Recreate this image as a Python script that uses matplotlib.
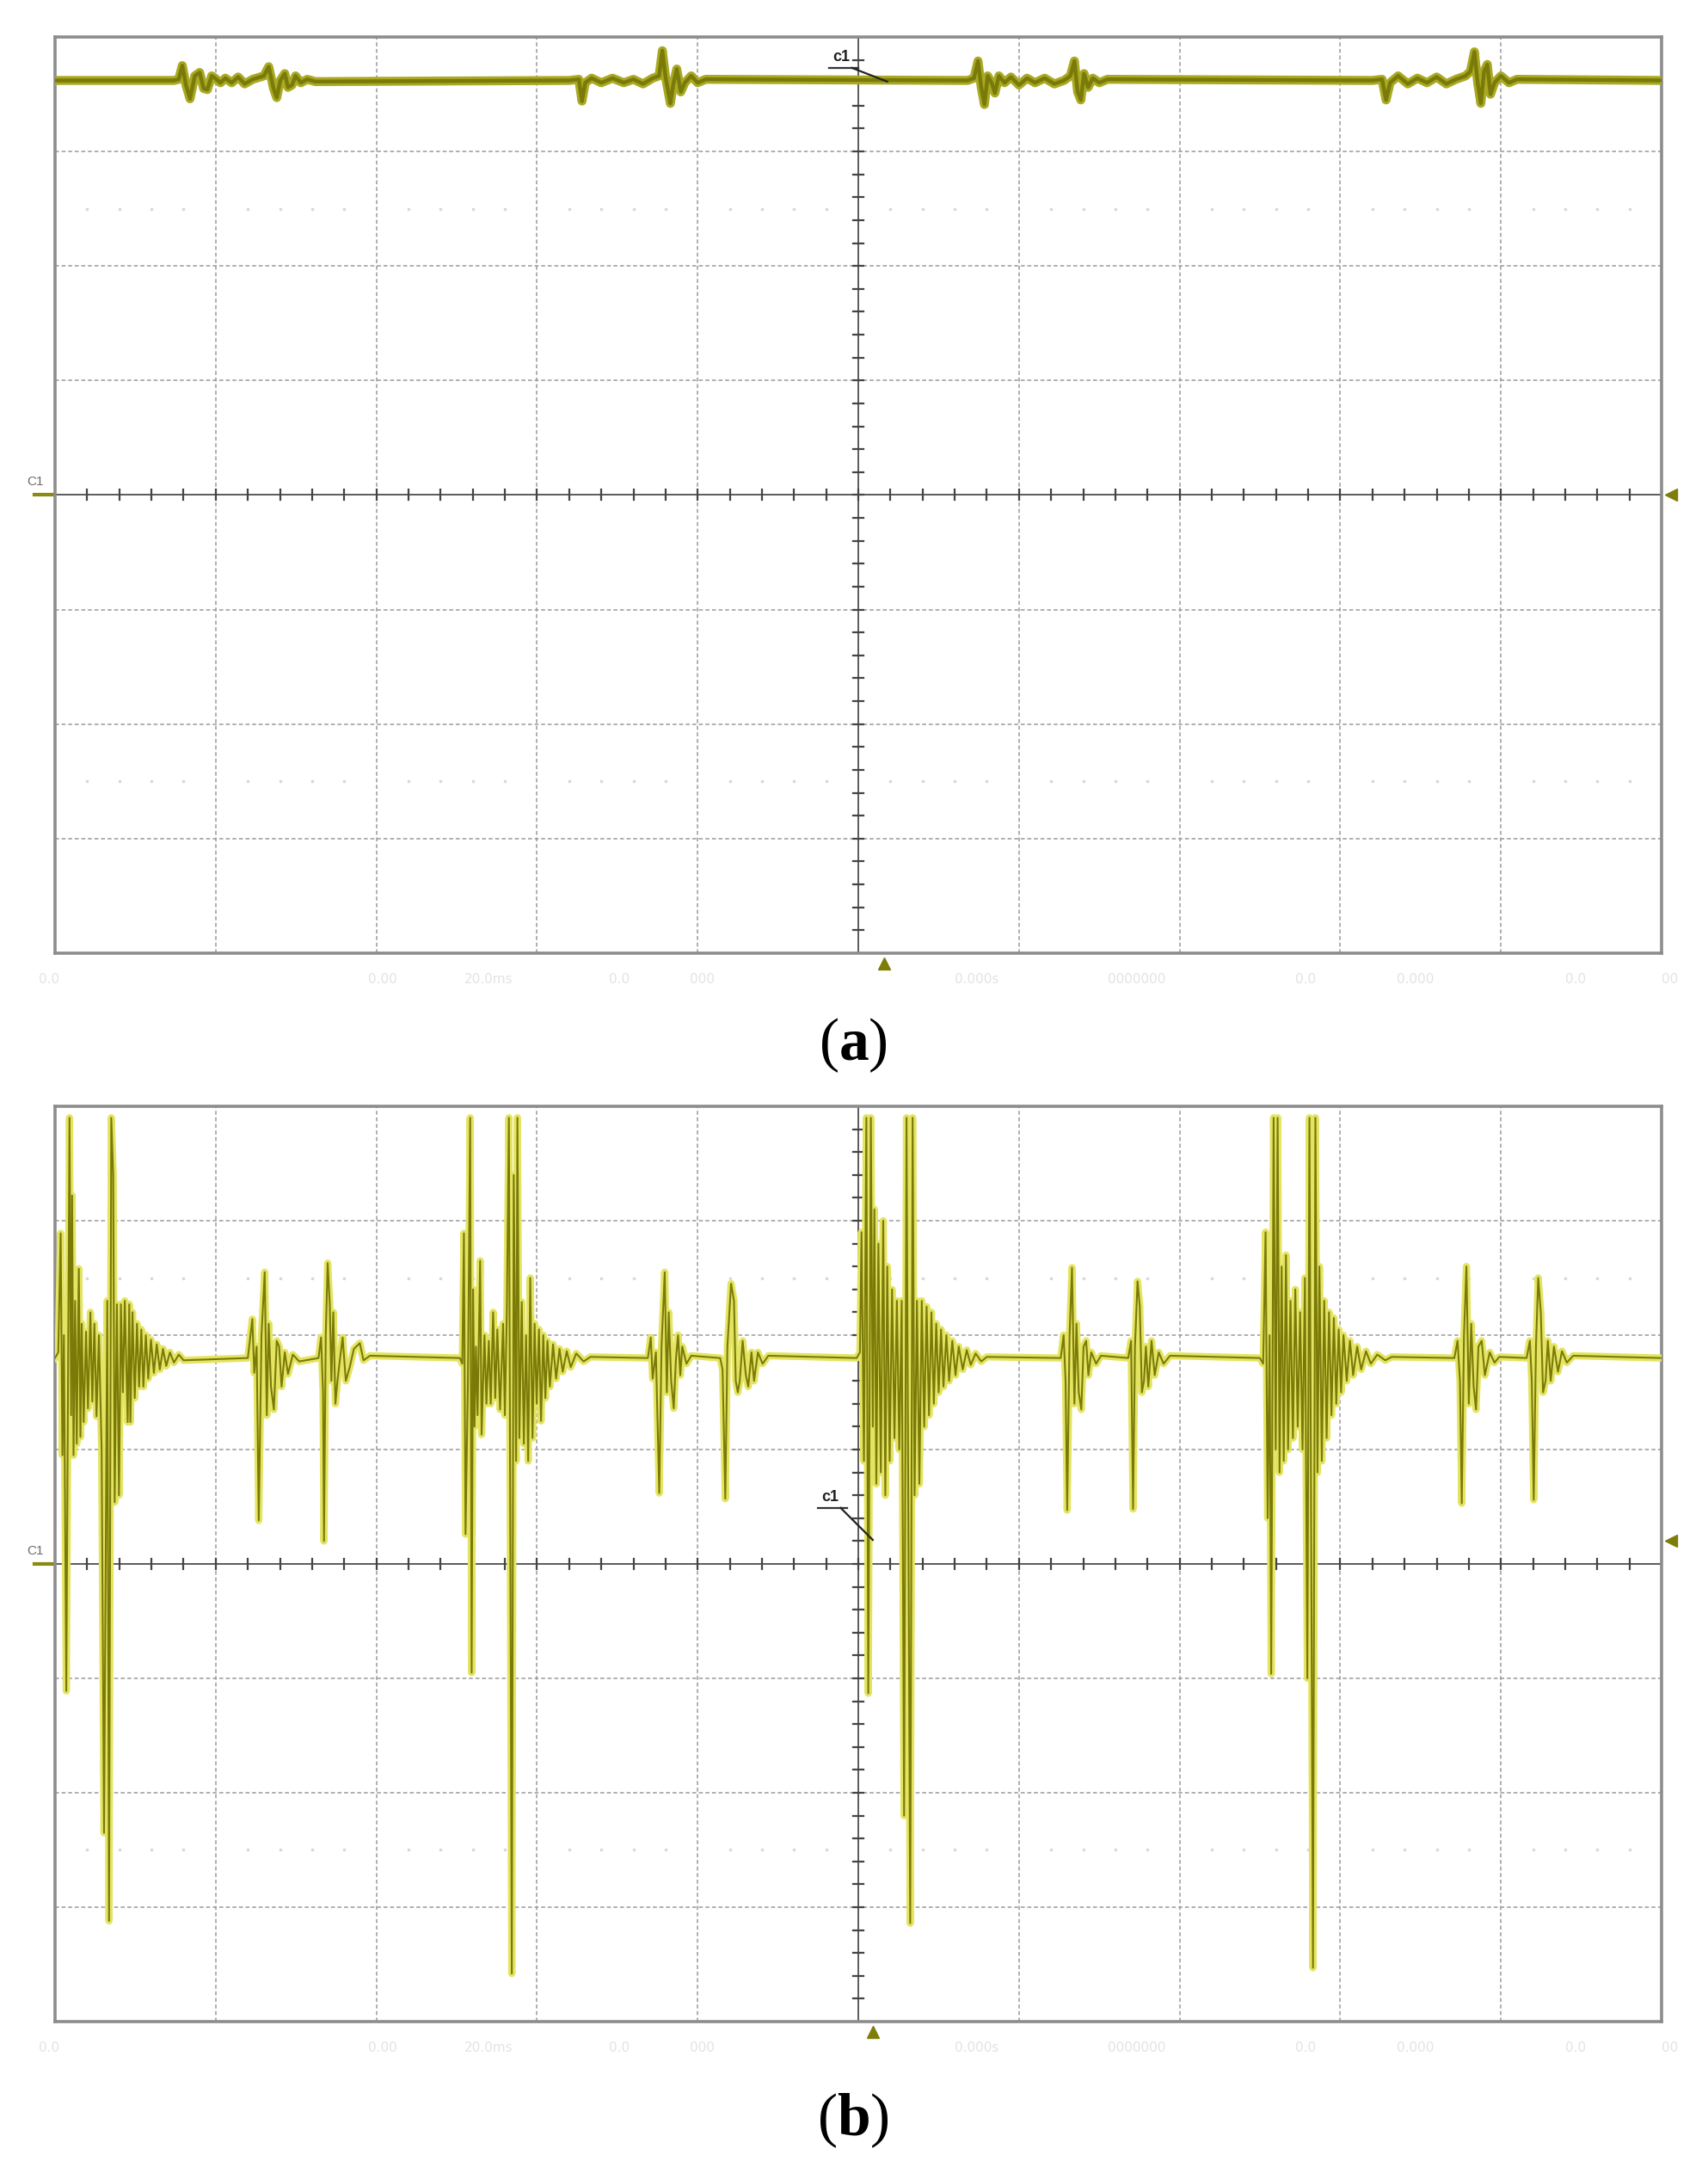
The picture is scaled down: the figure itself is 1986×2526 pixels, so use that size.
import numpy as np
import matplotlib.pyplot as plt

# oscilloscope screen: 10 x 8 divisions, values in divisions
# panel (a) trace: flat line with small disturbances
base_a = 3.62
a_t1 = [0.740, 0.770, 0.792, 0.815, 0.840, 0.870, 0.900, 0.925, 0.948, 0.975, 0.996, 1.030, 1.060, 1.100,
        1.140, 1.180, 1.230, 1.300, 1.330, 1.360, 1.380, 1.402, 1.430, 1.450, 1.475, 1.497, 1.530, 1.570, 1.620]
a_v1 = [3.62, 3.63, 3.75, 3.58, 3.46, 3.66, 3.69, 3.55, 3.54, 3.66, 3.64, 3.60, 3.64, 3.60,
        3.65, 3.59, 3.63, 3.66, 3.74, 3.55, 3.47, 3.62, 3.68, 3.56, 3.58, 3.66, 3.60, 3.63, 3.61]
a_t2 = [3.200, 3.260, 3.280, 3.300, 3.340, 3.400, 3.470, 3.540, 3.600, 3.660, 3.720, 3.760, 3.780, 3.800,
        3.830, 3.850, 3.870, 3.895, 3.920, 3.960, 4.000, 4.050]
a_v2 = [3.62, 3.63, 3.44, 3.60, 3.64, 3.60, 3.64, 3.60, 3.63, 3.59, 3.64, 3.66, 3.88, 3.65,
        3.42, 3.60, 3.72, 3.52, 3.60, 3.66, 3.60, 3.63]
a_t3 = [5.680, 5.720, 5.745, 5.765, 5.785, 5.805, 5.830, 5.850, 5.875, 5.910, 5.950, 6.000, 6.050, 6.100,
        6.160, 6.220, 6.280, 6.320, 6.345, 6.365, 6.385, 6.405, 6.430, 6.460, 6.500, 6.550]
a_v3 = [3.62, 3.64, 3.79, 3.56, 3.41, 3.66, 3.60, 3.51, 3.66, 3.60, 3.65, 3.58, 3.64, 3.60,
        3.64, 3.59, 3.62, 3.66, 3.79, 3.52, 3.45, 3.68, 3.56, 3.64, 3.60, 3.63]
a_t4 = [8.200, 8.260, 8.285, 8.310, 8.360, 8.420, 8.480, 8.540, 8.600, 8.660, 8.720, 8.780, 8.810, 8.835,
        8.855, 8.875, 8.895, 8.915, 8.935, 8.960, 9.000, 9.050, 9.100]
a_v4 = [3.62, 3.63, 3.45, 3.60, 3.66, 3.59, 3.64, 3.60, 3.65, 3.59, 3.63, 3.66, 3.70, 3.87,
        3.60, 3.42, 3.70, 3.76, 3.50, 3.60, 3.66, 3.60, 3.63]

# panel (b) trace: ringing bursts (3.9 = clipped at top of screen)
base_b = 1.80
b_t1 = [0.000, 0.020, 0.035, 0.046, 0.055, 0.070, 0.090, 0.100, 0.106, 0.115, 0.125, 0.135, 0.148, 0.158,
        0.166, 0.178, 0.193, 0.205, 0.220, 0.232, 0.245, 0.258, 0.273, 0.290, 0.305, 0.325, 0.336, 0.350,
        0.362, 0.371, 0.385, 0.398, 0.410, 0.422, 0.434, 0.452, 0.462, 0.469, 0.482, 0.496, 0.510, 0.523,
        0.537, 0.550, 0.565, 0.580, 0.597, 0.615, 0.633, 0.652, 0.672, 0.692, 0.715, 0.740, 0.770, 0.800]
b_v1 = [1.80, 1.85, 2.89, 0.95, 2.00, -1.11, 3.90, 1.30, 3.22, 0.95, 2.30, 1.05, 2.58, 1.11,
        2.10, 1.24, 2.03, 1.36, 2.20, 1.42, 2.10, 1.29, 2.00, 1.00, -2.35, 2.30, -3.12, 3.90,
        3.40, 0.54, 2.27, 0.60, 2.27, 1.50, 2.30, 1.24, 2.27, 1.24, 2.20, 1.45, 2.10, 1.55,
        2.05, 1.55, 2.00, 1.62, 1.96, 1.67, 1.92, 1.70, 1.88, 1.73, 1.85, 1.76, 1.83, 1.78]
s_t1a = [1.200, 1.228, 1.240, 1.255, 1.268, 1.285, 1.305, 1.318, 1.330, 1.344, 1.362, 1.380, 1.395, 1.410,
         1.430, 1.450, 1.480, 1.520]
s_v1a = [1.80, 2.14, 1.67, 1.90, 0.38, 2.00, 2.55, 1.30, 2.10, 1.55, 1.35, 1.95, 1.90, 1.55,
         1.85, 1.66, 1.83, 1.77]
s_t1b = [1.640, 1.656, 1.668, 1.674, 1.685, 1.697, 1.710, 1.720, 1.732, 1.745, 1.758, 1.770, 1.790, 1.810,
         1.834, 1.860, 1.897, 1.920, 1.960]
s_v1b = [1.80, 1.98, 1.50, 0.20, 2.00, 2.63, 2.27, 1.60, 2.20, 1.40, 1.60, 1.75, 1.98, 1.60,
         1.72, 1.88, 1.93, 1.78, 1.82]
b_t2 = [2.520, 2.535, 2.545, 2.555, 2.570, 2.584, 2.593, 2.602, 2.611, 2.620, 2.630, 2.646, 2.655, 2.673,
        2.685, 2.700, 2.712, 2.727, 2.740, 2.753, 2.770, 2.789, 2.800, 2.812, 2.825, 2.843, 2.855, 2.870,
        2.878, 2.890, 2.905, 2.918, 2.932, 2.945, 2.958, 2.972, 2.985, 2.998, 3.012, 3.025, 3.039, 3.052,
        3.065, 3.080, 3.100, 3.119, 3.140, 3.160, 3.185, 3.210, 3.244, 3.290, 3.333]
b_v2 = [1.80, 1.75, 2.89, 0.26, 1.60, 3.90, -0.95, 2.40, 1.20, 1.90, 1.30, 2.65, 1.13, 2.00,
        1.40, 1.95, 1.40, 2.20, 1.45, 2.05, 1.35, 2.10, 1.30, 2.20, 3.90, -3.58, 3.40, 0.90,
        3.90, 1.10, 2.29, 1.05, 2.00, 0.90, 2.50, 1.10, 2.10, 1.40, 2.05, 1.25, 2.00, 1.45,
        1.95, 1.55, 1.92, 1.62, 1.88, 1.68, 1.86, 1.72, 1.84, 1.77, 1.81]
s_t2a = [3.690, 3.708, 3.720, 3.740, 3.761, 3.775, 3.795, 3.808, 3.820, 3.835, 3.851, 3.865, 3.878, 3.892,
         3.904, 3.930, 3.960]
s_v2a = [1.80, 1.98, 1.62, 1.85, 0.62, 1.90, 2.55, 1.50, 2.20, 1.60, 1.36, 1.80, 2.00, 1.65,
         1.90, 1.75, 1.82]
s_t2b = [4.140, 4.155, 4.172, 4.185, 4.208, 4.226, 4.237, 4.250, 4.262, 4.280, 4.300, 4.315, 4.335, 4.351,
         4.375, 4.404, 4.440]
s_v2b = [1.80, 1.70, 0.57, 1.90, 2.45, 2.30, 1.60, 1.50, 1.60, 1.95, 1.65, 1.55, 1.85, 1.60,
         1.85, 1.75, 1.82]
b_t3 = [4.990, 5.010, 5.020, 5.035, 5.050, 5.062, 5.078, 5.090, 5.100, 5.112, 5.125, 5.140, 5.155, 5.168,
        5.180, 5.195, 5.210, 5.225, 5.240, 5.255, 5.270, 5.285, 5.300, 5.323, 5.338, 5.350, 5.365, 5.380,
        5.395, 5.410, 5.425, 5.440, 5.455, 5.470, 5.485, 5.500, 5.515, 5.530, 5.548, 5.565, 5.585, 5.605,
        5.625, 5.650, 5.675, 5.700, 5.730, 5.765, 5.800]
b_v3 = [1.80, 1.85, 2.90, 0.90, 3.90, -1.13, 3.90, 1.20, 3.10, 0.70, 2.80, 0.80, 3.00, 0.60,
        2.60, 0.90, 2.40, 1.10, 2.30, 1.00, 2.30, -2.20, 3.90, -3.14, 3.90, 0.60, 2.30, 0.70,
        2.30, 1.20, 2.25, 1.30, 2.20, 1.40, 2.10, 1.50, 2.05, 1.55, 2.00, 1.60, 1.95, 1.65,
        1.90, 1.70, 1.87, 1.74, 1.84, 1.77, 1.81]
s_t3a = [6.260, 6.278, 6.290, 6.300, 6.315, 6.330, 6.345, 6.358, 6.372, 6.388, 6.402, 6.418, 6.432, 6.450,
         6.480, 6.510]
s_v3a = [1.80, 2.00, 1.60, 0.47, 2.00, 2.59, 1.40, 2.10, 1.50, 1.35, 1.90, 1.95, 1.65, 1.85,
         1.75, 1.82]
s_t3b = [6.680, 6.698, 6.710, 6.722, 6.738, 6.752, 6.765, 6.778, 6.790, 6.805, 6.825, 6.845, 6.870, 6.900,
         6.940]
s_v3b = [1.80, 1.95, 0.48, 1.90, 2.47, 2.25, 1.50, 1.60, 1.90, 1.55, 1.95, 1.65, 1.85, 1.75,
         1.82]
b_t4 = [7.500, 7.520, 7.535, 7.548, 7.560, 7.570, 7.585, 7.598, 7.610, 7.622, 7.635, 7.648, 7.662, 7.675,
        7.690, 7.705, 7.720, 7.735, 7.750, 7.765, 7.780, 7.795, 7.808, 7.830, 7.845, 7.858, 7.870, 7.885,
        7.900, 7.915, 7.930, 7.945, 7.960, 7.975, 7.990, 8.005, 8.020, 8.040, 8.060, 8.080, 8.105, 8.130,
        8.160, 8.190, 8.230, 8.280, 8.320]
b_v4 = [1.80, 1.75, 2.90, 0.40, 2.00, -0.96, 3.90, 1.00, 3.90, 0.80, 2.60, 0.90, 2.70, 1.00,
        2.30, 1.10, 2.40, 1.20, 2.20, 1.00, 2.50, -1.00, 3.90, -3.53, 3.90, 0.80, 2.60, 0.90,
        2.30, 1.10, 2.20, 1.30, 2.15, 1.40, 2.05, 1.50, 2.00, 1.60, 1.95, 1.65, 1.90, 1.70,
        1.86, 1.75, 1.83, 1.78, 1.81]
s_t4a = [8.710, 8.730, 8.745, 8.756, 8.770, 8.785, 8.800, 8.815, 8.830, 8.845, 8.860, 8.880, 8.900, 8.930,
         8.960, 8.990]
s_v4a = [1.80, 1.95, 1.60, 0.53, 2.00, 2.60, 1.40, 2.10, 1.55, 1.35, 1.90, 1.95, 1.65, 1.85,
         1.76, 1.81]
s_t4b = [9.160, 9.180, 9.192, 9.204, 9.218, 9.232, 9.248, 9.262, 9.278, 9.292, 9.310, 9.330, 9.355, 9.380,
         9.410, 9.450]
s_v4b = [1.80, 1.95, 1.60, 0.56, 1.90, 2.50, 2.20, 1.50, 1.60, 1.95, 1.60, 1.90, 1.68, 1.86,
         1.76, 1.82]

# faint readout text under the screens (unreadable in the source)
readout_x = [-0.10, 1.95, 2.55, 3.45, 3.95, 5.60, 6.55, 7.72, 8.35, 9.40, 10.00]
readout_a = ["0.0", "0.00", "20.0ms", "0.0", "000", "0.000s", "0000000", "0.0", "0.000", "0.0", "00"]

YEL_DARK = '#7a7a08'
YEL_LIGHT = '#e4e462'
GRID = '#9a9a9a'


def join(groups, base):
    t = [0.0]
    v = [base]
    for gt, gv in groups:
        t += gt
        v += gv
    t.append(10.0)
    v.append(base)
    return np.array(t), np.array(v)


def screen(ax):
    ax.set_xlim(0, 10)
    ax.set_ylim(-4, 4)
    ax.set_xticks([])
    ax.set_yticks([])
    for s in ax.spines.values():
        s.set_color('#8c8c8c')
        s.set_linewidth(2.6)
    # dotted graticule
    for x in range(1, 10):
        if x != 5:
            ax.axvline(x, color=GRID, lw=1.1, ls=(0, (3, 2)), zorder=1)
    for y in range(-3, 4):
        if y != 0:
            ax.axhline(y, color=GRID, lw=1.1, ls=(0, (3, 2)), zorder=1)
    # faint dot rows
    dx = [i / 5 for i in range(1, 50) if i % 5 != 0]
    for y in (2.5, -2.5):
        ax.plot(dx, [y] * len(dx), ls='none', marker='s', ms=1.6, color='#d8d8d8', zorder=1)
    # centre axes with minor ticks
    ax.axhline(0, color='#5a5a5a', lw=1.4, zorder=2)
    ax.axvline(5, color='#5a5a5a', lw=1.4, zorder=2)
    for i in range(1, 50):
        x = i / 5
        ax.plot([x, x], [-0.045, 0.045], color='#444444', lw=1.6, zorder=2)
    for i in range(-19, 20):
        y = i / 5
        ax.plot([4.97, 5.03], [y, y], color='#444444', lw=1.6, zorder=2)


fig = plt.figure(figsize=(19.86, 25.26), dpi=100)
ax_a = fig.add_axes([0.03223, 0.5614, 0.9406, 0.4216])
ax_b = fig.add_axes([0.03223, 0.06968, 0.9406, 0.4212])

ta, va = join([(a_t1, a_v1), (a_t2, a_v2), (a_t3, a_v3), (a_t4, a_v4)], base_a)
tb, vb = join([(b_t1, b_v1), (s_t1a, s_v1a), (s_t1b, s_v1b), (b_t2, b_v2), (s_t2a, s_v2a), (s_t2b, s_v2b),
               (b_t3, b_v3), (s_t3a, s_v3a), (s_t3b, s_v3b), (b_t4, b_v4), (s_t4a, s_v4a), (s_t4b, s_v4b)],
              base_b)

# trace widths: (a) is a thick flat band, (b) thinner ringing lines
styles = {ax_a: (7.5, 3.2, '#a9a924'), ax_b: (6.0, 1.5, YEL_LIGHT)}

for ax, t, v, trig_y, trig_x, ca in [(ax_a, ta, va, 0.0, 5.16, (4.84, 3.76, 5.18, 3.61)),
                                     (ax_b, tb, vb, 0.2, 5.09, (4.77, 0.52, 5.09, 0.21))]:
    screen(ax)
    lw_under, lw_top, col_under = styles[ax]
    ax.plot(t, v, color=col_under, lw=lw_under, zorder=3)
    ax.plot(t, v, color=YEL_DARK, lw=lw_top, zorder=4)

    # channel label and markers
    ax.text(-0.07, 0.06, 'C1', ha='right', va='bottom', fontsize=11, color='#6a6a6a',
            family='Liberation Sans', clip_on=False)
    ax.plot([-0.13, -0.01], [0, 0], color='#8a8a10', lw=3, clip_on=False)
    ax.plot([10.06], [trig_y], marker='<', ms=10, color='#7d7d08', clip_on=False)
    ax.plot([trig_x], [-4.09], marker='^', ms=10, color='#7d7d08', clip_on=False)

    # c1 cursor annotation
    tx, ty, px, py = ca
    ax.text(tx, ty, 'c1', ha='left', va='bottom', fontsize=13, fontweight='bold',
            family='Liberation Sans', color='#222222', zorder=6)
    ax.plot([tx - 0.02, tx + 0.16], [ty - 0.03, ty - 0.03], color='#333333', lw=1.6, zorder=6)
    ax.plot([tx + 0.12, px], [ty - 0.03, py], color='#222222', lw=1.6, zorder=6)

    for x, s in zip(readout_x, readout_a):
        ax.text(x, -4.17, s, ha='left', va='top', fontsize=11, color='#e3e3e3', clip_on=False)

plt.rcParams['mathtext.fontset'] = 'custom'
plt.rcParams['mathtext.rm'] = 'Liberation Serif'
plt.rcParams['mathtext.bf'] = 'Liberation Serif:bold'
fig.text(0.4995, 0.519, r'($\mathbf{a}$)', ha='center', va='center', fontsize=50, family='Liberation Serif')
fig.text(0.4995, 0.0241, r'($\mathbf{b}$)', ha='center', va='center', fontsize=50, family='Liberation Serif')

fig.savefig('out.png', dpi=100, facecolor='white')
